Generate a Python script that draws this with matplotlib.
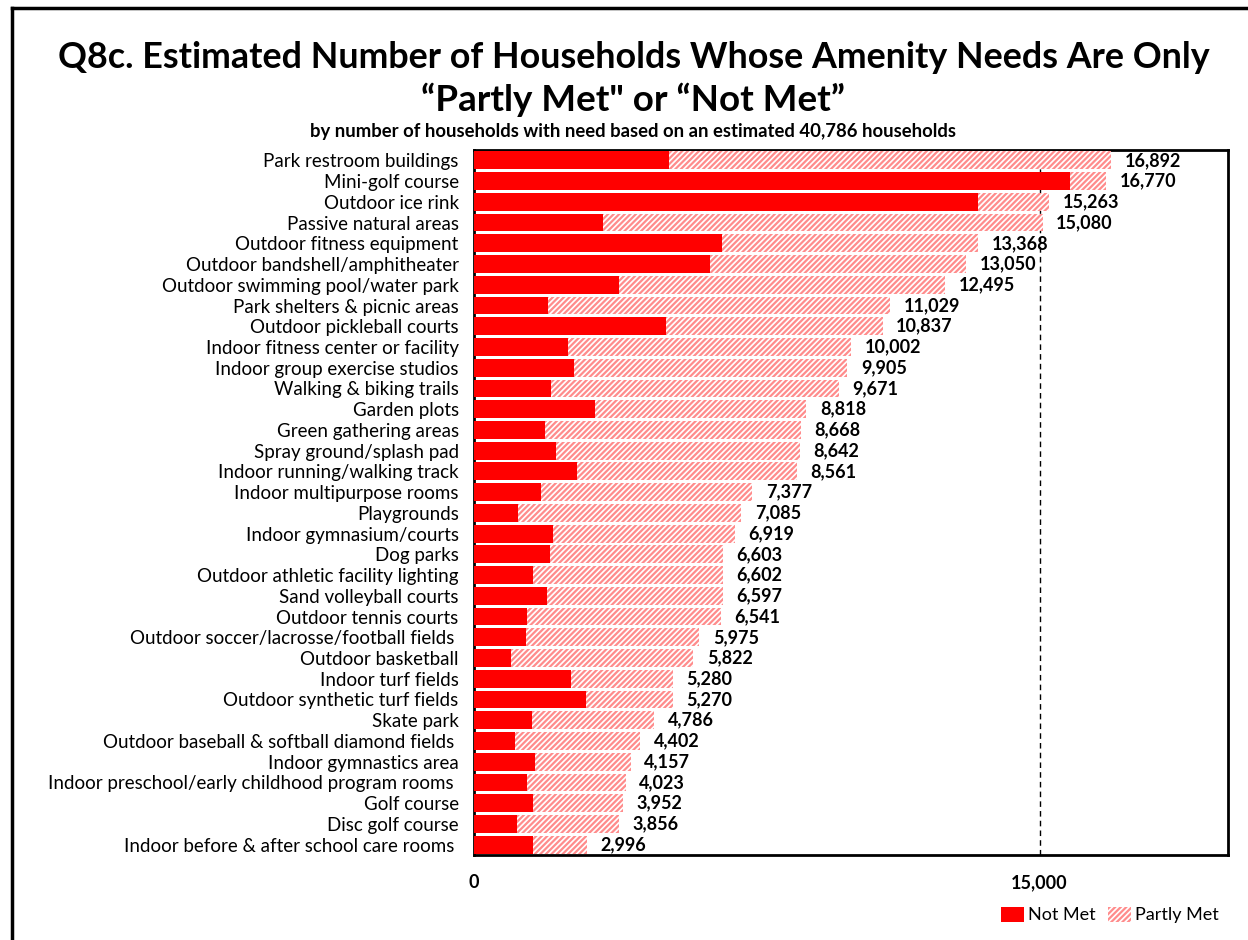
import matplotlib
matplotlib.use("Agg")
import matplotlib.pyplot as plt
from matplotlib.patches import Patch
from matplotlib.lines import Line2D
from matplotlib.ticker import FixedLocator, FuncFormatter

amenities = [
    "Park restroom buildings",
    "Mini-golf course",
    "Outdoor ice rink",
    "Passive natural areas",
    "Outdoor fitness equipment",
    "Outdoor bandshell/amphitheater",
    "Outdoor swimming pool/water park",
    "Park shelters & picnic areas",
    "Outdoor pickleball courts",
    "Indoor fitness center or facility",
    "Indoor group exercise studios",
    "Walking & biking trails",
    "Garden plots",
    "Green gathering areas",
    "Spray ground/splash pad",
    "Indoor running/walking track",
    "Indoor multipurpose rooms",
    "Playgrounds",
    "Indoor gymnasium/courts",
    "Dog parks",
    "Outdoor athletic facility lighting",
    "Sand volleyball courts",
    "Outdoor tennis courts",
    "Outdoor soccer/lacrosse/football fields ",
    "Outdoor basketball",
    "Indoor turf fields",
    "Outdoor synthetic turf fields",
    "Skate park",
    "Outdoor baseball & softball diamond fields ",
    "Indoor gymnastics area",
    "Indoor preschool/early childhood program rooms ",
    "Golf course",
    "Disc golf course",
    "Indoor before & after school care rooms ",
]

total_need = [
    16892, 16770, 15263, 15080, 13368, 13050, 12495, 11029, 10837, 10002,
    9905, 9671, 8818, 8668, 8642, 8561, 7377, 7085, 6919, 6603,
    6602, 6597, 6541, 5975, 5822, 5280, 5270, 4786, 4402, 4157,
    4023, 3952, 3856, 2996,
]

not_met = [
    5165, 15797, 13358, 3420, 6573, 6255, 3843, 1961, 5089, 2491,
    2650, 2041, 3207, 1882, 2173, 2730, 1776, 1166, 2094, 2014,
    1564, 1935, 1405, 1378, 981, 2571, 2968, 1537, 1087, 1617,
    1405, 1564, 1140, 1564,
]

partly_met = [t - n for t, n in zip(total_need, not_met)]

x_ticks = [0, 15000]
x_max = 20000

RED = "#FF0000"
HATCH_PINK = "#FF8C8C"

plt.rcParams["font.family"] = ["Lato", "DejaVu Sans"]
plt.rcParams["hatch.linewidth"] = 1.6
plt.rcParams["hatch.color"] = HATCH_PINK

fig = plt.figure(figsize=(12.48, 9.40), dpi=100)
ax = fig.add_axes([474 / 1248, 1 - 855 / 940, (1228 - 474) / 1248, (855 - 150) / 940])

y = list(range(len(amenities)))
bar_h = 0.86
ax.barh(y, not_met, height=bar_h, color=RED, edgecolor="none", zorder=3)
ax.barh(y, partly_met, left=not_met, height=bar_h, color="white",
        edgecolor=HATCH_PINK, linewidth=0, hatch="//////", zorder=3)

for yi, t in zip(y, total_need):
    ax.text(t + 360, yi, f"{t:,}", va="center", ha="left",
            fontsize=13, fontweight="bold", color="black", zorder=4)

ax.set_ylim(len(amenities) - 0.5, -0.5)
ax.set_yticks(y)
ax.set_yticklabels(amenities, fontsize=13.5)
ax.tick_params(axis="y", length=0, pad=11)

ax.set_xlim(0, x_max)
ax.xaxis.set_major_locator(FixedLocator(x_ticks))
ax.xaxis.set_major_formatter(FuncFormatter(lambda v, p: f"{int(v):,}"))
ax.tick_params(axis="x", length=0, pad=14, labelsize=13)
for lab in ax.get_xticklabels():
    lab.set_fontweight("bold")

ax.axvline(15000, color="black", linestyle=(0, (4, 3)), linewidth=1.0, zorder=1)

for s in ax.spines.values():
    s.set_linewidth(2.0)
    s.set_color("black")

# Title block
fig.text(0.5075, 1 - 58 / 940,
         "Q8c. Estimated Number of Households Whose Amenity Needs Are Only",
         ha="center", va="center", fontsize=25.8, fontweight="bold")
fig.text(0.5075, 1 - 100 / 940, "\u201cPartly Met\" or \u201cNot Met\u201d",
         ha="center", va="center", fontsize=26.5, fontweight="bold")
fig.text(0.5075, 1 - 131 / 940,
         "by number of households with need based on an estimated 40,786 households",
         ha="center", va="center", fontsize=13.3, fontweight="bold")

# Legend
handles = [
    Patch(facecolor=RED, edgecolor="none", label="Not Met"),
    Patch(facecolor="white", edgecolor=HATCH_PINK, linewidth=0, hatch="//////",
          label="Partly Met"),
]
fig.legend(handles=handles, loc="center right", bbox_to_anchor=(1226 / 1248, 1 - 915 / 940),
           ncol=2, frameon=False, fontsize=13, handlelength=1.3, handleheight=0.9,
           handletextpad=0.2, columnspacing=0.7, borderaxespad=0)

# Outer frame lines along the top and left edges
fig.add_artist(Line2D([12 / 1248, 1.0], [1 - 8 / 940, 1 - 8 / 940],
                      transform=fig.transFigure, color="black", linewidth=2.5))
fig.add_artist(Line2D([12 / 1248, 12 / 1248], [0, 1 - 8 / 940],
                      transform=fig.transFigure, color="black", linewidth=2.5))

fig.savefig("out.png", dpi=100, facecolor="white")
